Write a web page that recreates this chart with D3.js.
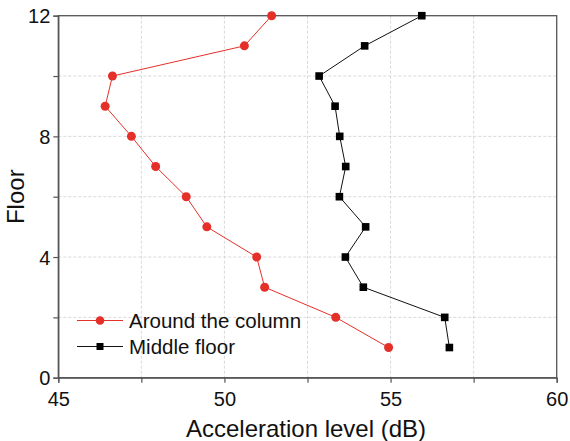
<!DOCTYPE html>
<html><head><meta charset="utf-8">
<script src="https://cdn.jsdelivr.net/npm/d3@7"></script>
<style>body{margin:0;background:#fff}svg{display:block;font-family:"Liberation Sans",Arial,sans-serif}</style>
</head><body><svg id="c" width="570" height="441"></svg>
<script>
const floors = [1,2,3,4,5,6,7,8,9,10,11,12];
const aroundColumn = [54.94,53.35,51.21,50.97,49.47,48.85,47.93,47.2,46.41,46.63,50.6,51.42];
const middleFloor = [56.77,56.63,54.18,53.64,54.25,53.46,53.65,53.47,53.33,52.85,54.22,55.94];
const xTicks = [45,50,55,60];
const yTicks = [0,4,8,12];
const seriesNames = ["Around the column","Middle floor"];

const svg = d3.select("#c");
const L=58.3,R=556.7,T=15.7,B=377.7;
const x = d3.scaleLinear().domain([45,60]).range([L,R]);
const y = d3.scaleLinear().domain([0,12]).range([B,T]);

// grid
const g = svg.append("g");
[47.5,50,52.5,55,57.5].forEach(v=>g.append("line").attr("x1",x(v)).attr("x2",x(v)).attr("y1",T).attr("y2",B)
  .attr("stroke","#cfcfcf").attr("stroke-width",0.8).attr("stroke-dasharray","3,2"));
[2,4,6,8,10].forEach(v=>g.append("line").attr("x1",L).attr("x2",R).attr("y1",y(v)).attr("y2",y(v))
  .attr("stroke","#cfcfcf").attr("stroke-width",0.8).attr("stroke-dasharray","3,2"));

// frame
svg.append("rect").attr("x",L).attr("y",T).attr("width",R-L).attr("height",B-T)
  .attr("fill","none").attr("stroke","#555").attr("stroke-width",1.3);

// axes
const xa = svg.append("g").attr("transform",`translate(0,${B})`)
  .call(d3.axisBottom(x).tickValues(d3.range(45,60.1,2.5)).tickSize(5).tickPadding(4).tickFormat(d=>xTicks.includes(d)?d:""));
const ya = svg.append("g").attr("transform",`translate(${L},0)`)
  .call(d3.axisLeft(y).tickValues(d3.range(0,12.1,2)).tickSize(5).tickPadding(3).tickFormat(d=>yTicks.includes(d)?d:""));
[xa,ya].forEach(a=>{a.select(".domain").attr("stroke","#555").attr("stroke-width",1.3);
  a.selectAll(".tick line").attr("stroke","#555").attr("stroke-width",1.2);
  a.selectAll("text").attr("font-size",20).attr("fill","#111").attr("font-family","Liberation Sans, Arial, sans-serif");});
xa.selectAll("text").attr("dy","0.95em");
ya.selectAll("text").attr("dy","0.36em");

svg.append("text").attr("x",306).attr("y",437).attr("text-anchor","middle")
  .attr("font-size",24).attr("fill","#111").text("Acceleration level (dB)");
svg.append("text").attr("transform",`translate(24,${(T+B)/2+0}) rotate(-90)`).attr("text-anchor","middle")
  .attr("font-size",24).attr("fill","#111").text("Floor");

const red="#e5302a";
const line = d3.line().x(d=>x(d[0])).y(d=>y(d[1]));
const rd = aroundColumn.map((v,i)=>[v,floors[i]]);
const bd = middleFloor.map((v,i)=>[v,floors[i]]);
svg.append("path").attr("d",line(rd)).attr("fill","none").attr("stroke",red).attr("stroke-width",1);
svg.append("path").attr("d",line(bd)).attr("fill","none").attr("stroke","#111").attr("stroke-width",1);
svg.selectAll(".rp").data(rd).enter().append("circle").attr("cx",d=>x(d[0])).attr("cy",d=>y(d[1])).attr("r",4.5).attr("fill",red);
svg.selectAll(".bp").data(bd).enter().append("rect").attr("x",d=>x(d[0])-3.8).attr("y",d=>y(d[1])-3.8)
  .attr("width",7.6).attr("height",7.6).attr("fill","#000");

// legend
const lg = svg.append("g");
[[red,"c"],["#111","s"]].forEach((s,i)=>{
  const yy = 320.5 + i*26;
  lg.append("line").attr("x1",77).attr("x2",123).attr("y1",yy).attr("y2",yy).attr("stroke",s[0]).attr("stroke-width",1);
  if(s[1]==="c") lg.append("circle").attr("cx",100).attr("cy",yy).attr("r",4.3).attr("fill",red);
  else lg.append("rect").attr("x",96.5).attr("y",yy-3.5).attr("width",7).attr("height",7).attr("fill","#000");
  lg.append("text").attr("x",129).attr("y",yy+7.2).attr("font-size",20.5).attr("fill","#111").text(seriesNames[i]);
});
</script></body></html>
